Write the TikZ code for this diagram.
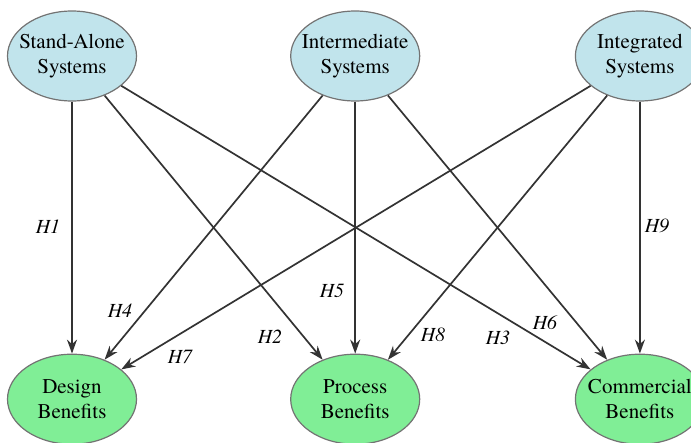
\documentclass[tikz,border=0pt]{standalone}
\usepackage{fontspec}
\setmainfont{texgyretermes}[Extension=.otf, UprightFont=*-regular, ItalicFont=*-italic, BoldFont=*-bold]
\usetikzlibrary{positioning,shapes.geometric,arrows.meta}
\definecolor{sysblue}{RGB}{193,228,236}
\definecolor{bengreen}{RGB}{128,238,150}

\begin{document}
\begin{tikzpicture}[x=1pt, y=-1pt, ->, >={Stealth[length=14pt,width=10pt]}, draw=black!80, line width=1.7pt]
    \tikzstyle{factor}=[ellipse, draw=black!55, line width=1.2pt, minimum width=129pt, minimum height=90pt, inner sep=-30pt, align=center, font=\fontsize{21}{25}\selectfont]
    \tikzstyle{system}=[factor, fill=sysblue]
    \tikzstyle{benefit}=[factor, fill=bengreen]
    \tikzstyle{hyp}=[font=\fontsize{20}{24}\selectfont\itshape, inner sep=0pt]

    \useasboundingbox (0,0) rectangle (691,442);

    % Systems (top row)
    \node[system] (SA) at (72,56) {Stand-Alone\\Systems};
    \node[system, right=153pt of SA] (IS) {Intermediate\\Systems};
    \node[system, right=154.5pt of IS] (GS) {Integrated\\Systems};

    % Benefits (bottom row)
    \node[benefit, below=252pt of SA] (DB) {Design\\Benefits};
    \node[benefit, below=252pt of IS] (PB) {Process\\Benefits};
    \node[benefit, below=252pt of GS] (CB) {Commercial\\Benefits};

    % Hypotheses: every system to every benefit
    \foreach \s in {SA,IS,GS}
        \foreach \t in {DB,PB,CB}
            \draw (\s) -- (\t);

    % Hypothesis labels
    \foreach \n/\x/\y in {1/48/227, 2/270/337, 3/498/338, 4/120/311, 5/332/291,
                          6/545/323, 7/180/357, 8/433/335, 9/657/226}
        \node[hyp] (H\n) at (\x,\y) {H\n};
\end{tikzpicture}
\end{document}
